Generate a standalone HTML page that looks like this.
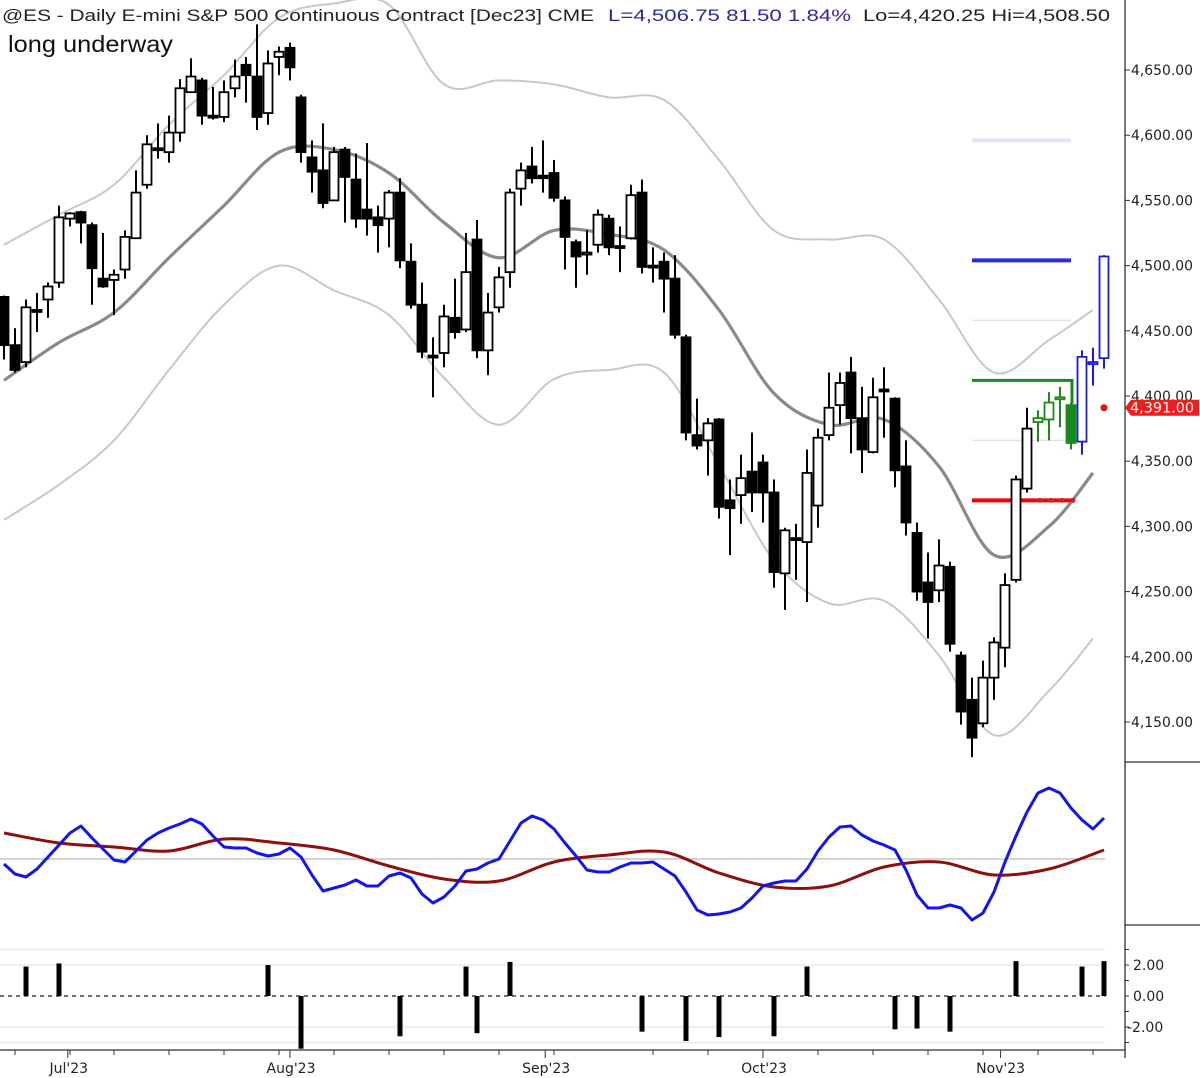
<!DOCTYPE html>
<html><head><meta charset="utf-8"><title>@ES Daily chart</title>
<style>
html,body{margin:0;padding:0;background:#fff;}
svg{display:block;}
.ax{font-family:"DejaVu Sans","Liberation Sans",sans-serif;font-size:14px;fill:#222;}
.hd{font-family:"Liberation Sans",sans-serif;font-size:17px;}
</style></head>
<body>
<svg id="chart" width="1200" height="1078" viewBox="0 0 1200 1078" xmlns="http://www.w3.org/2000/svg">
<rect width="1200" height="1078" fill="#fff"/>
<g id="bands"></g>
<g id="levels"></g>
<g id="candles"></g>
<g id="osc"></g>
<g id="hist"></g>
<g id="axes"></g>
<text class="hd" x="2" y="21" textLength="592" lengthAdjust="spacingAndGlyphs" fill="#222">@ES - Daily  E-mini S&amp;P 500 Continuous Contract [Dec23]  CME</text>
<text class="hd" x="608" y="21" textLength="243" lengthAdjust="spacingAndGlyphs" fill="#2a2a9a">L=4,506.75  81.50  1.84%</text>
<text class="hd" x="863" y="21" textLength="247" lengthAdjust="spacingAndGlyphs" fill="#222">Lo=4,420.25  Hi=4,508.50</text>
<text x="8" y="52" font-family="Liberation Sans, sans-serif" font-size="23" textLength="165" lengthAdjust="spacingAndGlyphs" fill="#111">long underway</text>
</svg>
<script>
const opens=[4476,4439,4426,4466,4474,4487,4536,4541,4531,4490,4489,4497,4521,4562,4590,4587,4602,4633,4642,4615,4614,4636,4654,4645,4617,4660,4667,4629,4583,4573,4550,4589,4566,4543,4537,4536,4556,4503,4470,4431,4433,4460,4451,4520,4435,4468,4495,4559,4576,4569,4571,4550,4518,4510,4516,4536,4515,4521,4556,4500,4503,4490,4445,4370,4366,4382,4320,4324,4342,4349,4326,4264,4291,4288,4316,4370,4393,4418,4383,4357,4405,4398,4346,4295,4257,4251,4269,4201,4167,4149,4184,4207,4259,4329,4380,4382,4398,4393,4365,4425,4429];
const highs=[4477,4452,4474,4479,4487,4546,4541,4542,4533,4525,4497,4527,4573,4600,4609,4615,4643,4659,4644,4637,4642,4658,4660,4685,4665,4668,4671,4631,4596,4609,4591,4591,4586,4594,4546,4558,4567,4517,4487,4445,4470,4490,4525,4535,4479,4499,4559,4579,4591,4596,4581,4553,4520,4527,4543,4539,4530,4562,4566,4514,4510,4508,4447,4398,4383,4383,4336,4355,4372,4355,4336,4299,4302,4359,4375,4418,4418,4430,4407,4414,4422,4399,4366,4303,4280,4290,4273,4204,4184,4197,4215,4264,4339,4391,4389,4403,4407,4395,4435,4437,4508];
const lows=[4428,4418,4422,4449,4460,4483,4530,4517,4470,4483,4462,4490,4521,4559,4582,4579,4595,4633,4608,4612,4610,4629,4625,4604,4608,4646,4642,4579,4556,4544,4550,4533,4529,4523,4510,4514,4498,4467,4429,4399,4422,4444,4449,4429,4416,4464,4483,4546,4563,4556,4549,4497,4483,4493,4510,4508,4495,4520,4494,4487,4464,4444,4366,4359,4339,4306,4278,4302,4311,4303,4253,4236,4259,4242,4299,4366,4378,4356,4341,4356,4368,4330,4293,4243,4214,4242,4204,4148,4123,4146,4167,4192,4257,4326,4365,4366,4376,4359,4355,4408,4421];
const closes=[4439,4420,4468,4465,4484,4537,4540,4533,4498,4484,4493,4522,4556,4593,4589,4602,4636,4645,4615,4614,4633,4645,4646,4614,4655,4664,4652,4587,4572,4548,4587,4568,4536,4536,4531,4556,4504,4470,4434,4430,4461,4449,4495,4435,4464,4491,4556,4573,4567,4567,4552,4522,4507,4510,4539,4514,4514,4554,4499,4499,4490,4447,4372,4362,4379,4315,4314,4337,4326,4326,4265,4297,4290,4341,4368,4391,4410,4383,4359,4399,4404,4343,4303,4250,4242,4270,4210,4158,4138,4184,4211,4255,4336,4375,4383,4395,4399,4364,4430,4426,4507];
const sampleIdx=[0,5,10,15,20,25,30,35,40,45,50,55,60,65,70,75,80,85,90,95,99];
const maVals=[4412,4441,4464,4506,4546,4587,4589,4571,4533,4506,4527,4524,4512,4466,4402,4378,4382,4346,4278,4300,4341];
const upperVals=[4516,4539,4562,4608,4646,4690,4701,4700,4639,4642,4639,4629,4627,4581,4527,4520,4520,4474,4418,4443,4466];
const lowerVals=[4305,4332,4366,4420,4470,4500,4481,4462,4414,4378,4413,4420,4418,4347,4274,4241,4243,4201,4140,4174,4214];
const oscBlue=[-0.5,-1.5,-1.8,-1.0,0.2,1.4,2.6,3.3,2.1,1.0,-0.1,-0.3,0.8,1.9,2.6,3.1,3.5,4.0,3.5,2.3,1.2,1.1,1.1,0.6,0.3,0.5,1.1,0.2,-1.6,-3.2,-2.9,-2.6,-2.1,-2.7,-2.7,-1.7,-1.4,-1.9,-3.5,-4.4,-3.8,-2.7,-1.2,-1.0,-0.4,0,1.8,3.6,4.3,3.9,3.0,1.6,0.3,-1.1,-1.3,-1.3,-0.8,-0.4,-0.4,-0.3,-1.0,-1.7,-3.3,-5.1,-5.6,-5.5,-5.3,-4.9,-3.9,-2.7,-2.4,-2.2,-2.2,-1.0,0.8,2.2,3.2,3.3,2.4,1.8,1.4,0.9,-1.1,-3.6,-4.9,-4.9,-4.6,-4.9,-6.1,-5.4,-3.3,-0.3,2.3,4.7,6.6,7.1,6.6,5.1,3.9,3.0,4.1];
const oscRedIdx=[0,5,10,15,20,25,30,35,40,45,50,55,60,65,70,75,80,85,90,95,100];
const oscRed=[2.6,1.6,1.2,0.8,2.0,1.6,0.9,-0.7,-2.0,-2.2,-0.3,0.4,0.7,-1.4,-2.8,-2.7,-0.8,-0.3,-1.6,-1.0,0.9];
const histIdx=[2,5,24,27,36,42,43,46,58,62,65,70,73,81,83,86,92,98,100];
const histVals=[1.9,2.1,2.0,-3.4,-2.6,1.9,-2.4,2.2,-2.3,-2.9,-2.65,-2.6,1.9,-2.15,-2.1,-2.3,2.25,1.9,2.25];
const priceTicks=[4650,4600,4550,4500,4450,4400,4350,4300,4250,4200,4150];
const histTicks=[2,0,-2];
const monthLabels=["Jul'23","Aug'23","Sep'23","Oct'23","Nov'23"];
const monthIdx=[5.8,26,49.2,69,90.6];
const weekIdx=[1,6,10,15,20,25,30,35,40,45,50,59,64,74,79,84,89,94,99];
const levelVals=[4596,4504,4458,4366];
const levelColors=["#e2e2f8","#2b2be6","#e4e4e4","#e4e4e4"];
const levelWidths=[4,4,1.5,1.5];
const greenLevel=4412, redLevel=4320, lastMark=4391;

const NS="http://www.w3.org/2000/svg";
const xB=i=>4+11*i;
const yP=p=>70+(4650-p)*1.304;
const yO=v=>859-v*10;
const yH=v=>996-v*15.5;
function mk(tag,attrs,parent){const e=document.createElementNS(NS,tag);for(const k in attrs)e.setAttribute(k,attrs[k]);parent.appendChild(e);return e;}
function smooth(pts){let d="M"+pts[0][0]+","+pts[0][1];for(let i=0;i<pts.length-1;i++){const p0=pts[Math.max(0,i-1)],p1=pts[i],p2=pts[i+1],p3=pts[Math.min(pts.length-1,i+2)];const c1x=p1[0]+(p2[0]-p0[0])/6,c1y=p1[1]+(p2[1]-p0[1])/6,c2x=p2[0]-(p3[0]-p1[0])/6,c2y=p2[1]-(p3[1]-p1[1])/6;d+=" C"+c1x+","+c1y+" "+c2x+","+c2y+" "+p2[0]+","+p2[1];}return d;}

const defs=mk('defs',{},document.getElementById('chart'));
const cp=mk('clipPath',{id:'pclip'},defs);mk('rect',{x:0,y:0,width:1125,height:762},cp);

const bg=document.getElementById('bands');bg.setAttribute('clip-path','url(#pclip)');
const up=mk('path',{d:smooth(sampleIdx.map((i,k)=>[xB(i),yP(upperVals[k])])),fill:'none',stroke:'#c8c8c8','stroke-width':2},bg);


const lo=mk('path',{d:smooth(sampleIdx.map((i,k)=>[xB(i),yP(lowerVals[k])])),fill:'none',stroke:'#c8c8c8','stroke-width':2},bg);


const ma=mk('path',{d:smooth(sampleIdx.map((i,k)=>[xB(i),yP(maVals[k])])),fill:'none',stroke:'#8a8a8a','stroke-width':3.2},bg);



const lg=document.getElementById('levels');
levelVals.forEach((v,k)=>{const l=mk('line',{x1:972,x2:1071,y1:yP(v),y2:yP(v),stroke:levelColors[k],'stroke-width':levelWidths[k]},lg);

});
const gl=mk('polyline',{points:`972,${yP(greenLevel)} 1072,${yP(greenLevel)} 1072,${yP(closes[97]+30)}`,fill:'none',stroke:'#1a8a1a','stroke-width':3},lg);


const rl=mk('line',{x1:972,x2:1074,y1:yP(redLevel),y2:yP(redLevel),stroke:'#f00','stroke-width':4},lg);


[1040,1051,1062,1073].forEach(x=>{const d=mk('circle',{cx:x,cy:yP(redLevel),r:2.5,fill:'#b03030'},lg);

});
const rd=mk('circle',{cx:xB(100),cy:yP(lastMark),r:3.5,fill:'#e81010'},lg);



const cg=document.getElementById('candles');
opens.forEach((o,i)=>{const c=closes[i],x=xB(i);
 let col='#000';if(i>=94&&i<=97)col='#1a8a1a';if(i>=98)col='#1a1ae0';
 const w=mk('line',{x1:x,x2:x,y1:yP(highs[i]),y2:yP(lows[i]),stroke:col,'stroke-width':2},cg);
 
 
 const top=yP(Math.max(o,c)),bot=yP(Math.min(o,c));const h=Math.max(bot-top,2);
 const r=mk('rect',{x:x-4.5,y:top,width:9,height:h,fill:c<o?col:'#fff',stroke:col,'stroke-width':1.8},cg);
 
 
});

const og=document.getElementById('osc');
const z=mk('line',{x1:0,x2:1105,y1:yO(0),y2:yO(0),stroke:'#bbb','stroke-width':1.2},og);


const red=mk('path',{d:smooth(oscRedIdx.map((i,k)=>[xB(i),yO(oscRed[k])])),fill:'none',stroke:'#8b1010','stroke-width':3},og);


const blue=mk('polyline',{points:oscBlue.map((v,i)=>xB(i)+','+yO(v)).join(' '),fill:'none',stroke:'#1414f0','stroke-width':3,'stroke-linejoin':'round'},og);



const hg=document.getElementById('hist');
[3,2,-2,-3].forEach(v=>{const g=mk('line',{x1:0,x2:1105,y1:yH(v),y2:yH(v),stroke:'#e6e6e6','stroke-width':1.2},hg);

});
const hz=mk('line',{x1:0,x2:1105,y1:yH(0),y2:yH(0),stroke:'#222','stroke-width':1.2,'stroke-dasharray':'4,4'},hg);


histIdx.forEach((i,k)=>{const v=histVals[k];const b=mk('rect',{x:xB(i)-2.5,y:Math.min(yH(v),yH(0)),width:5,height:Math.abs(yH(v)-yH(0)),fill:'#000'},hg);

});

const ag=document.getElementById('axes');
mk('line',{x1:1125,x2:1125,y1:0,y2:1058,stroke:'#333','stroke-width':1.3},ag);
mk('line',{x1:1125,x2:1200,y1:762,y2:762,stroke:'#333','stroke-width':1.3},ag);
mk('line',{x1:1125,x2:1200,y1:925,y2:925,stroke:'#333','stroke-width':1.3},ag);
mk('line',{x1:0,x2:1125,y1:1050,y2:1050,stroke:'#333','stroke-width':1.3},ag);
priceTicks.forEach(p=>{mk('line',{x1:1125,x2:1130,y1:yP(p),y2:yP(p),stroke:'#333'},ag);
 const t=mk('text',{x:1131,y:yP(p)+5,class:'ax',textLength:62,lengthAdjust:'spacingAndGlyphs'},ag);t.textContent=p.toLocaleString('en-US',{minimumFractionDigits:2});
 
 });
for(let v=3;v>=-3;v--){mk('line',{x1:1125,x2:1129,y1:yH(v),y2:yH(v),stroke:'#333'},ag);}
histTicks.forEach(v=>{const t=mk('text',{x:v<0?1127:1133,y:yH(v)+5,class:'ax'},ag);t.textContent=v.toFixed(2);
 
 });
weekIdx.forEach(i=>{mk('line',{x1:xB(i),x2:xB(i),y1:1050,y2:1055,stroke:'#333'},ag);});
monthIdx.forEach((i,k)=>{mk('line',{x1:xB(i),x2:xB(i),y1:1050,y2:1058,stroke:'#333'},ag);
 const t=mk('text',{x:xB(i)+(k===4?0:1),y:1073,class:'ax','text-anchor':'middle'},ag);t.textContent=monthLabels[k];
 
 });
const tag=mk('path',{d:`M1125,${yP(lastMark)} L1131,${yP(lastMark)-8} L1199,${yP(lastMark)-8} L1199,${yP(lastMark)+8} L1131,${yP(lastMark)+8} Z`,fill:'#f21c1c'},ag);


const tt=mk('text',{x:1130,y:yP(lastMark)+5,class:'ax',style:'fill:#fff',textLength:64,lengthAdjust:'spacingAndGlyphs'},ag);tt.textContent=lastMark.toLocaleString('en-US',{minimumFractionDigits:2});


</script>
</body></html>
